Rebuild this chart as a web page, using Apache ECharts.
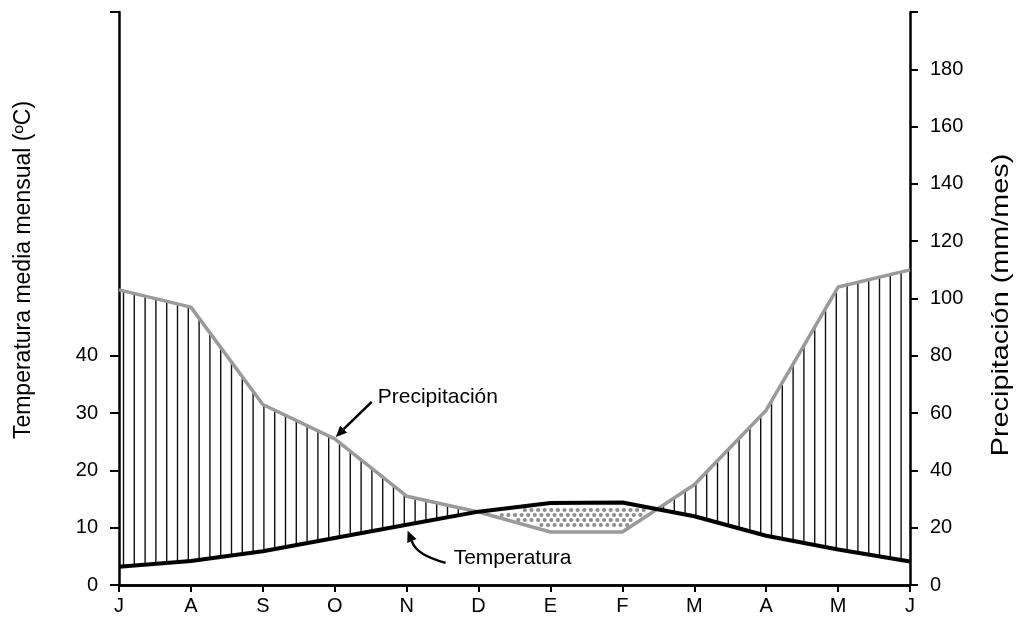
<!DOCTYPE html>
<html><head><meta charset="utf-8">
<script src="https://cdn.jsdelivr.net/npm/echarts@6/dist/echarts.min.js"></script>
<style>html,body{margin:0;padding:0;background:#fff}#c{width:1020px;height:617px}</style>
</head><body><div id="c"></div>
<script>
// ---- data ----
const months = ['J','A','S','O','N','D','E','F','M','A','M','J'];
const temperature = [3.2, 4.2, 5.9, 8.2, 10.5, 12.8, 14.3, 14.4, 12.0, 8.6, 6.2, 4.1];   // ºC
const precipitation = [103, 97, 63, 51, 31, 25.5, 18.5, 18.5, 35, 61, 104, 110];         // mm/mes
const tempTickLabels = [0, 10, 20, 30, 40];
const precipTickLabels = [0, 20, 40, 60, 80, 100, 120, 140, 160, 180];
const TEMP_MAX = 100, PRECIP_MAX = 200;
const MM_PER_DEG = PRECIP_MAX / TEMP_MAX;

const FONT = '"Liberation Sans", Arial, sans-serif';
const chart = echarts.init(document.getElementById('c'));

const segments = [];
for (let i = 0; i < months.length - 1; i++) {
  segments.push([i, temperature[i] * MM_PER_DEG, precipitation[i], temperature[i + 1] * MM_PER_DEG, precipitation[i + 1]]);
}

function renderFill(params, api) {
  const i = api.value(0);
  const a = api.coord([i, api.value(1)]);     // temp start
  const b = api.coord([i, api.value(2)]);     // precip start
  const c = api.coord([i + 1, api.value(3)]); // temp end
  const d = api.coord([i + 1, api.value(4)]); // precip end
  const origin = api.coord([0, 0]);
  const x0 = a[0], x1 = c[0];
  const children = [];
  // vertical hatch (humid period)
  const HS = 10.8, HOFF = 4.5;
  const k = Math.ceil((x0 - origin[0] - HOFF) / HS);
  for (let x = origin[0] + HOFF + k * HS; x < x1; x += HS) {
    const f = (x - x0) / (x1 - x0);
    const yt = a[1] + f * (c[1] - a[1]);
    const yp = b[1] + f * (d[1] - b[1]);
    if (yt - yp > 2) {
      children.push({type: 'line', shape: {x1: x, y1: yp, x2: x, y2: yt},
        style: {stroke: '#111', lineWidth: 1.4}});
    }
  }
  // dots (dry period)
  const DX = 6.6, DY = 5, R = 2.1;
  const top = Math.min(a[1], b[1], c[1], d[1]), bottom = Math.max(a[1], b[1], c[1], d[1]);
  const jStart = Math.ceil((origin[1] - bottom) / DY), jEnd = Math.floor((origin[1] - top) / DY);
  for (let j = jStart; j <= jEnd; j++) {
    const y = origin[1] - j * DY;
    const xoff = (((j % 2) + 2) % 2) * DX / 2;
    const m0 = Math.ceil((x0 - origin[0] - xoff) / DX);
    for (let x = origin[0] + xoff + m0 * DX; x < x1; x += DX) {
      const f = (x - x0) / (x1 - x0);
      const yt = a[1] + f * (c[1] - a[1]);
      const yp = b[1] + f * (d[1] - b[1]);
      if (y - R > yt + 1 && y + R < yp - 0.8) {
        children.push({type: 'circle', shape: {cx: x, cy: y, r: R}, style: {fill: '#8e8e8e'}});
      }
    }
  }
  return {type: 'group', children: children};
}

const axisLineStyle = {color: '#000', width: 2.5};
const option = {
  animation: false,
  backgroundColor: '#fff',
  grid: {left: 119, right: 110, top: 12, bottom: 32, containLabel: false},
  xAxis: [{
    type: 'category', data: months, boundaryGap: false, position: 'bottom',
    axisLine: {lineStyle: axisLineStyle},
    axisTick: {show: true, length: 7, lineStyle: {color: '#000', width: 2}},
    axisLabel: {color: '#000', fontSize: 20, fontFamily: FONT, margin: 11},
    splitLine: {show: false}
  }, {
    type: 'category', data: months, boundaryGap: false, position: 'top',
    axisLine: {lineStyle: axisLineStyle},
    axisTick: {show: false}, axisLabel: {show: false}, splitLine: {show: false}
  }],
  yAxis: [{
    type: 'value', min: 0, max: TEMP_MAX, interval: 10, position: 'left',
    axisLine: {show: true, lineStyle: axisLineStyle},
    axisTick: {show: true, length: 9, customValues: tempTickLabels.concat([TEMP_MAX]), lineStyle: {color: '#000', width: 2}},
    axisLabel: {customValues: tempTickLabels, color: '#000', fontSize: 20, fontFamily: FONT, margin: 21},
    splitLine: {show: false}
  }, {
    type: 'value', min: 0, max: PRECIP_MAX, interval: 20, position: 'right',
    axisLine: {show: true, lineStyle: axisLineStyle},
    axisTick: {show: true, length: 8, customValues: precipTickLabels.concat([PRECIP_MAX]), lineStyle: {color: '#000', width: 2}},
    axisLabel: {customValues: precipTickLabels, color: '#000', fontSize: 20, fontFamily: FONT, margin: 20},
    splitLine: {show: false}
  }],
  series: [{
    type: 'custom', xAxisIndex: 0, yAxisIndex: 1, z: 1,
    renderItem: renderFill, data: segments, encode: {x: 0, y: [1, 2, 3, 4]}, silent: true
  }, {
    name: 'Precipitación', type: 'line', xAxisIndex: 0, yAxisIndex: 1, z: 2,
    data: precipitation, symbol: 'none', lineStyle: {color: '#9a9a9a', width: 3.5}
  }, {
    name: 'Temperatura', type: 'line', xAxisIndex: 0, yAxisIndex: 0, z: 3,
    data: temperature, symbol: 'none', lineStyle: {color: '#000', width: 4}
  }]
};
chart.setOption(option);

function arrowHead(tip, from, len, half) {
  const dx = tip[0] - from[0], dy = tip[1] - from[1];
  const L = Math.hypot(dx, dy), ux = dx / L, uy = dy / L;
  const bx = tip[0] - ux * len, by = tip[1] - uy * len;
  return {points: [tip, [bx - uy * half, by + ux * half], [bx + uy * half, by - ux * half]], base: [bx, by]};
}

const pP = chart.convertToPixel({xAxisIndex: 0, yAxisIndex: 1}, [3, precipitation[3]]);
const pT = chart.convertToPixel({xAxisIndex: 0, yAxisIndex: 0}, [4, temperature[4]]);
const tipP = [pP[0] + 1, pP[1] - 2], tailP = [tipP[0] + 36, tipP[1] - 35];
const headP = arrowHead(tipP, tailP, 11, 5);
const tipT = [pT[0] + 1, pT[1] + 6], tailT = [tipT[0] + 38, tipT[1] + 32], ctrlT = [tipT[0] + 8, tipT[1] + 24];
const headT = arrowHead(tipT, [tipT[0] + 5, tipT[1] + 12], 11, 5);

chart.setOption({
  graphic: [
    {type: 'text', x: 24, y: 270, rotation: Math.PI / 2,
      style: {text: 'Temperatura media mensual (ºC)', font: '23px ' + FONT, fill: '#000', align: 'center', verticalAlign: 'middle'}},
    {type: 'text', x: 1001, y: 305, rotation: Math.PI / 2, scaleX: 1.2,
      style: {text: 'Precipitación (mm/mes)', font: '24px ' + FONT, fill: '#000', align: 'center', verticalAlign: 'middle'}},
    {type: 'line', shape: {x1: tailP[0], y1: tailP[1], x2: headP.base[0], y2: headP.base[1]}, style: {stroke: '#000', lineWidth: 2.5}, z: 10},
    {type: 'polygon', shape: {points: headP.points}, style: {fill: '#000'}, z: 10},
    {type: 'text', x: tipP[0] + 42, y: tipP[1] - 40,
      style: {text: 'Precipitación', font: '21px ' + FONT, fill: '#000', align: 'left', verticalAlign: 'middle'}, z: 10},
    {type: 'bezierCurve', shape: {x1: tailT[0], y1: tailT[1], cpx1: ctrlT[0], cpy1: ctrlT[1], x2: headT.base[0], y2: headT.base[1]},
      style: {stroke: '#000', lineWidth: 2.5, fill: null}, z: 10},
    {type: 'polygon', shape: {points: headT.points}, style: {fill: '#000'}, z: 10},
    {type: 'text', x: tipT[0] + 46, y: tipT[1] + 27,
      style: {text: 'Temperatura', font: '21px ' + FONT, fill: '#000', align: 'left', verticalAlign: 'middle'}, z: 10}
  ]
});
</script>
</body></html>
